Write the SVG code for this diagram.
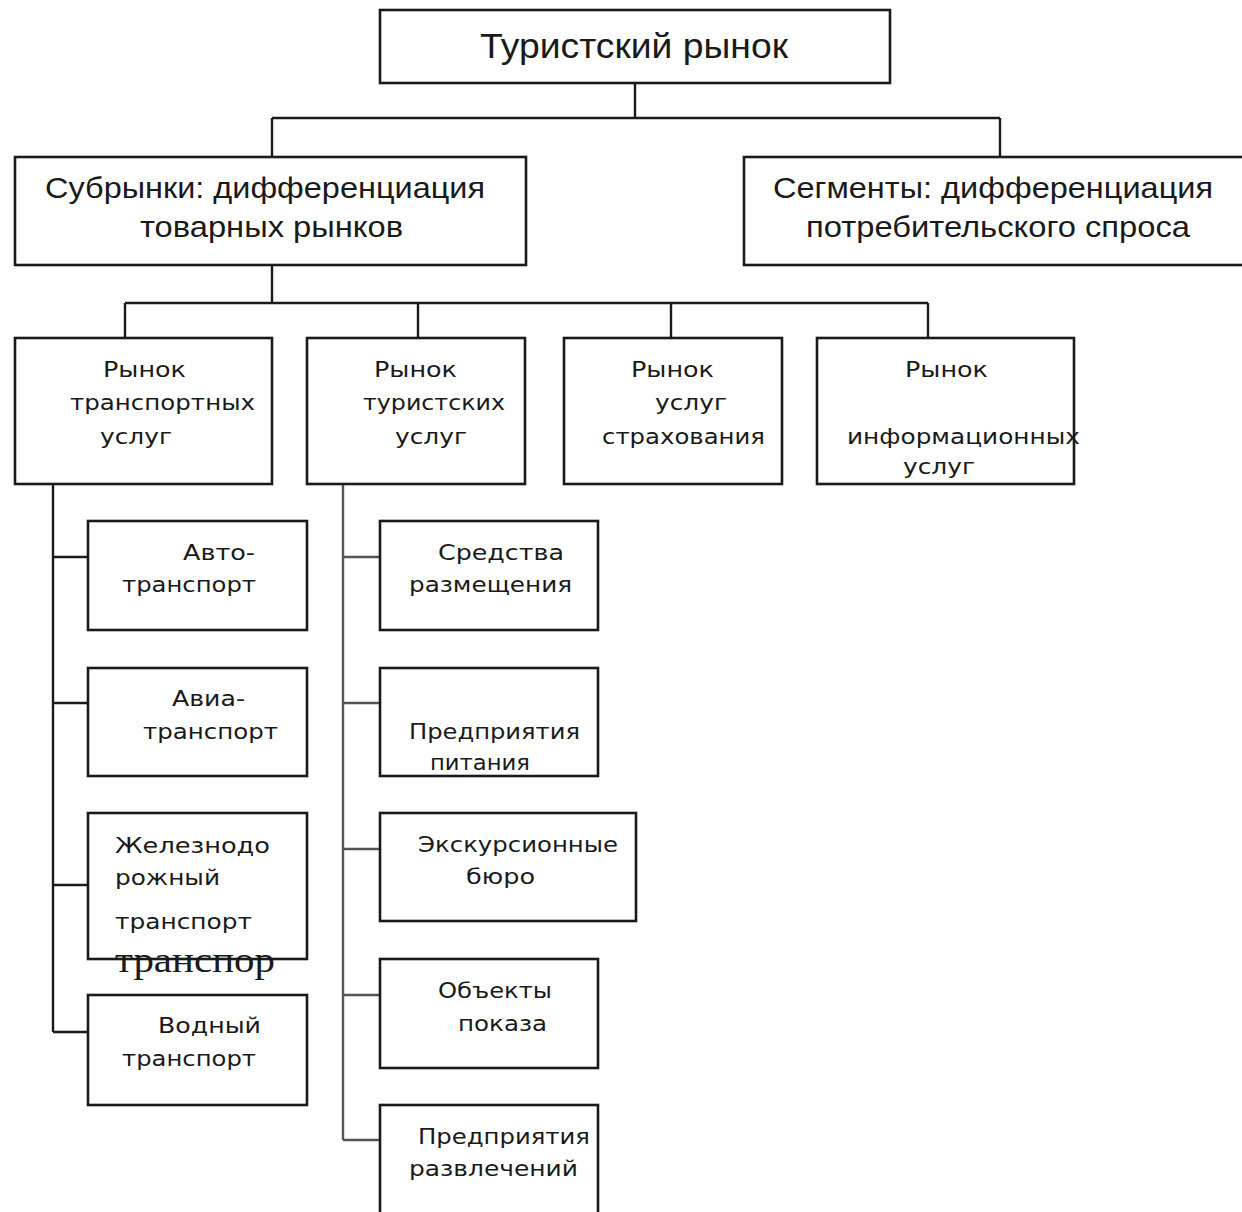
<svg xmlns="http://www.w3.org/2000/svg" width="1242" height="1212" viewBox="0 0 1242 1212">
<style>
.box{fill:#fff;stroke:#1a1a1a;stroke-width:2.6}
.ln{fill:none;stroke:#1a1a1a;stroke-width:2.4}
.big{font-family:"Liberation Sans",Arial,sans-serif;font-size:35px;fill:#1a1a1a}
.mid{font-family:"Liberation Sans",Arial,sans-serif;font-size:29px;fill:#1a1a1a}
.sm{font-family:"DejaVu Sans",sans-serif;font-size:22px;fill:#1a1a1a}
.ser{font-family:"Liberation Serif","Times New Roman",serif;font-size:36px;fill:#1a1a1a}
</style>
<rect width="1242" height="1212" fill="#fff"/>
<g id="connectors">
<path class="ln" d="M635 83V118M272 118H1000M272 118V157M1000 118V157"/>
<path class="ln" d="M272 265V303M125 303H928M125 303V338M418 303V338M671 303V338M928 303V338"/>
<path class="ln" d="M53 484V1032M53 557H88M53 703H88M53 885H88M53 1032H88"/>
<path class="ln" style="stroke:#555" d="M343 484V1140M343 557H380M343 703H380M343 849H380M343 995H380M343 1140H380"/>
</g>
<g id="n-tour"><rect class="box" x="380" y="10" width="510" height="73"/><text class="big" x="480" y="58" textLength="308" lengthAdjust="spacingAndGlyphs">Туристский рынок</text></g>
<g id="n-sub"><rect class="box" x="15" y="157" width="511" height="108"/>
<text class="mid" x="45" y="198" textLength="440" lengthAdjust="spacingAndGlyphs">Субрынки: дифференциация</text>
<text class="mid" x="140" y="237" textLength="263" lengthAdjust="spacingAndGlyphs">товарных рынков</text></g>
<g id="n-seg"><rect class="box" x="744" y="157" width="510" height="108"/>
<text class="mid" x="773" y="198" textLength="440" lengthAdjust="spacingAndGlyphs">Сегменты: дифференциация</text>
<text class="mid" x="806" y="237" textLength="384" lengthAdjust="spacingAndGlyphs">потребительского спроса</text></g>
<g id="n-transp"><rect class="box" x="15" y="338" width="257" height="146"/>
<text class="sm" x="103" y="377" textLength="83" lengthAdjust="spacingAndGlyphs">Рынок</text>
<text class="sm" x="70" y="410" textLength="185" lengthAdjust="spacingAndGlyphs">транспортных</text>
<text class="sm" x="100" y="444" textLength="72" lengthAdjust="spacingAndGlyphs">услуг</text></g>
<g id="n-turist"><rect class="box" x="307" y="338" width="218" height="146"/>
<text class="sm" x="374" y="377" textLength="83" lengthAdjust="spacingAndGlyphs">Рынок</text>
<text class="sm" x="363" y="410" textLength="142" lengthAdjust="spacingAndGlyphs">туристских</text>
<text class="sm" x="395" y="444" textLength="72" lengthAdjust="spacingAndGlyphs">услуг</text></g>
<g id="n-strah"><rect class="box" x="564" y="338" width="218" height="146"/>
<text class="sm" x="631" y="377" textLength="83" lengthAdjust="spacingAndGlyphs">Рынок</text>
<text class="sm" x="655" y="410" textLength="72" lengthAdjust="spacingAndGlyphs">услуг</text>
<text class="sm" x="602" y="444" textLength="163" lengthAdjust="spacingAndGlyphs">страхования</text></g>
<g id="n-info"><rect class="box" x="817" y="338" width="257" height="146"/>
<text class="sm" x="905" y="377" textLength="83" lengthAdjust="spacingAndGlyphs">Рынок</text>
<text class="sm" x="847" y="444" textLength="233" lengthAdjust="spacingAndGlyphs">информационных</text>
<text class="sm" x="903" y="474" textLength="72" lengthAdjust="spacingAndGlyphs">услуг</text></g>
<g id="n-avto"><rect class="box" x="88" y="521" width="219" height="109"/>
<text class="sm" x="183" y="560" textLength="72" lengthAdjust="spacingAndGlyphs">Авто-</text>
<text class="sm" x="122" y="592" textLength="134" lengthAdjust="spacingAndGlyphs">транспорт</text></g>
<g id="n-avia"><rect class="box" x="88" y="668" width="219" height="108"/>
<text class="sm" x="172" y="706" textLength="73" lengthAdjust="spacingAndGlyphs">Авиа-</text>
<text class="sm" x="143" y="739" textLength="135" lengthAdjust="spacingAndGlyphs">транспорт</text></g>
<g id="n-zhd"><rect class="box" x="88" y="813" width="219" height="146"/>
<text class="sm" x="115" y="853" textLength="155" lengthAdjust="spacingAndGlyphs">Железнодо</text>
<text class="sm" x="115" y="885" textLength="105" lengthAdjust="spacingAndGlyphs">рожный</text>
<text class="sm" x="115" y="929" textLength="137" lengthAdjust="spacingAndGlyphs">транспорт</text>
<text class="ser" x="115" y="972" textLength="160" lengthAdjust="spacingAndGlyphs">транспор</text></g>
<g id="n-vod"><rect class="box" x="88" y="995" width="219" height="110"/>
<text class="sm" x="158" y="1033" textLength="103" lengthAdjust="spacingAndGlyphs">Водный</text>
<text class="sm" x="122" y="1066" textLength="134" lengthAdjust="spacingAndGlyphs">транспорт</text></g>
<g id="n-sredstva"><rect class="box" x="380" y="521" width="218" height="109"/>
<text class="sm" x="438" y="560" textLength="126" lengthAdjust="spacingAndGlyphs">Средства</text>
<text class="sm" x="409" y="592" textLength="163" lengthAdjust="spacingAndGlyphs">размещения</text></g>
<g id="n-pitanie"><rect class="box" x="380" y="668" width="218" height="108"/>
<text class="sm" x="409" y="739" textLength="171" lengthAdjust="spacingAndGlyphs">Предприятия</text>
<text class="sm" x="430" y="770" textLength="100" lengthAdjust="spacingAndGlyphs">питания</text></g>
<g id="n-ekskurs"><rect class="box" x="380" y="813" width="256" height="108"/>
<text class="sm" x="418" y="852" textLength="200" lengthAdjust="spacingAndGlyphs">Экскурсионные</text>
<text class="sm" x="466" y="884" textLength="69" lengthAdjust="spacingAndGlyphs">бюро</text></g>
<g id="n-obekty"><rect class="box" x="380" y="959" width="218" height="109"/>
<text class="sm" x="438" y="998" textLength="114" lengthAdjust="spacingAndGlyphs">Объекты</text>
<text class="sm" x="458" y="1031" textLength="89" lengthAdjust="spacingAndGlyphs">показа</text></g>
<g id="n-razvl"><rect class="box" x="380" y="1105" width="218" height="120"/>
<text class="sm" x="418" y="1144" textLength="172" lengthAdjust="spacingAndGlyphs">Предприятия</text>
<text class="sm" x="409" y="1176" textLength="169" lengthAdjust="spacingAndGlyphs">развлечений</text></g>
</svg>
